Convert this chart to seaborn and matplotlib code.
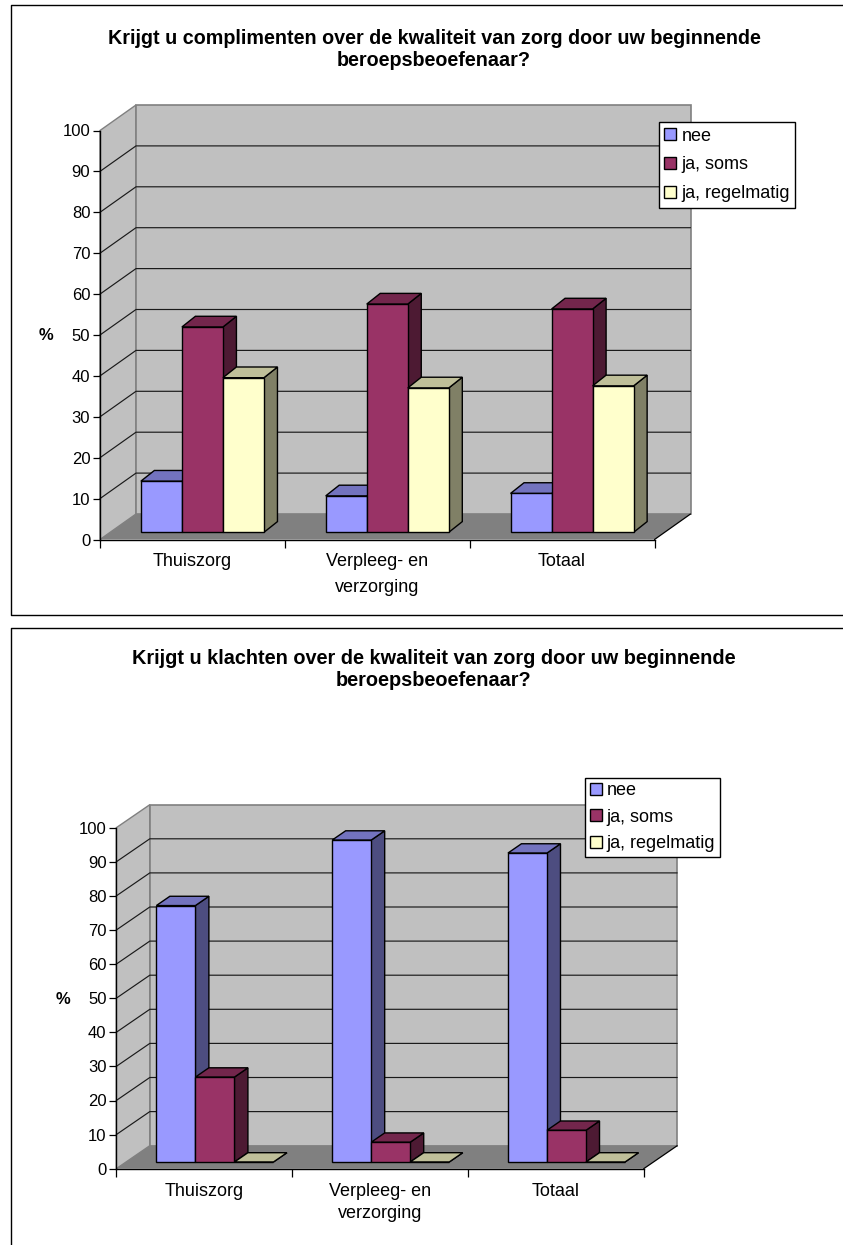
import matplotlib
matplotlib.use("Agg")
import matplotlib.pyplot as plt
from matplotlib.lines import Line2D
from matplotlib.patches import Patch, Polygon
from matplotlib.transforms import Affine2D
import pandas as pd
import seaborn as sns

# Survey results, percent of respondents per care sector
sectors = ["Thuiszorg", "Verpleeg- en\nverzorging", "Totaal"]
answers = ["nee", "ja, soms", "ja, regelmatig"]
compliments_nee = [12.5, 8.9, 9.5]
compliments_soms = [50.2, 55.8, 54.6]
compliments_regelmatig = [37.8, 35.3, 35.8]
complaints_nee = [75.2, 94.4, 90.6]
complaints_soms = [24.9, 5.8, 9.3]
complaints_regelmatig = [0, 0, 0]
yticks = list(range(0, 101, 10))

title_compliments = ("Krijgt u complimenten over de kwaliteit van zorg door uw beginnende\n"
                     "beroepsbeoefenaar?")
title_complaints = ("Krijgt u klachten over de kwaliteit van zorg door uw beginnende\n"
                    "beroepsbeoefenaar?")

front_colors = {"nee": "#9999FF", "ja, soms": "#993366", "ja, regelmatig": "#FFFFCC"}
top_colors = {"nee": "#7373BF", "ja, soms": "#73264C", "ja, regelmatig": "#BFBF99"}
side_colors = {"nee": "#4D4D80", "ja, soms": "#4D1A33", "ja, regelmatig": "#808066"}

W, H = 843, 1245
FONT = ["Liberation Sans", "DejaVu Sans"]

sns.set_theme(style="white")
plt.rcParams["font.family"] = FONT
plt.rcParams["text.color"] = "black"


def fx(px):
    return px / W


def fy(py):
    return 1 - py / H


def frame(fig, left, top, right, bottom):
    """Thin outline around a chart; open edges lie outside the canvas."""
    xs = [fx(right), fx(left), fx(left), fx(right)]
    ys = [fy(top), fy(top), fy(bottom), fy(bottom)]
    fig.add_artist(Line2D(xs, ys, color="black", lw=1.0, transform=fig.transFigure))


def pseudo3d_chart(fig, values, title, g):
    left, right, y0, y100 = g["left"], g["right"], g["y0"], g["y100"]
    ax = fig.add_axes([fx(left), fy(y0), fx(right) - fx(left), fy(y100) - fy(y0)])
    ax.set_facecolor("none")

    table = pd.DataFrame(
        [{"sector": s, "answer": a, "pct": v[i]}
         for a, v in zip(answers, values) for i, s in enumerate(sectors)]
    )
    sns.barplot(data=table, x="sector", y="pct", hue="answer", order=sectors,
                hue_order=answers, palette=front_colors, saturation=1,
                width=g["width"], gap=0, errorbar=None, legend=False,
                edgecolor="black", linewidth=1.0, ax=ax)
    ax.set_xlim(-0.5, 2.5)
    ax.set_ylim(0, 100)

    # pixel depths expressed in data units
    cat_px = (right - left) / 3
    pct_px = (y0 - y100) / 100
    wall_dx, wall_dy = g["wall"][0] / cat_px, g["wall"][1] / pct_px
    base_dx, base_dy = g["base"][0] / cat_px, g["base"][1] / pct_px
    bar_dx, bar_dy = g["depth"][0] / cat_px, g["depth"][1] / pct_px

    x0, x1 = -0.5, 2.5
    wall_edge = "#808080"
    ax.add_patch(Polygon([(x0, 0), (x0, 100), (x0 + wall_dx, 100 + wall_dy), (x0 + wall_dx, wall_dy)],
                         fc="#C0C0C0", ec=wall_edge, lw=1.0, clip_on=False, zorder=0.5))
    ax.add_patch(Polygon([(x0 + wall_dx, wall_dy), (x0 + wall_dx, 100 + wall_dy),
                          (x1 + wall_dx, 100 + wall_dy), (x1 + wall_dx, wall_dy)],
                         fc="#C0C0C0", ec=wall_edge, lw=1.2, clip_on=False, zorder=0.5))
    ax.add_patch(Polygon([(x0, 0), (x1, 0), (x1 + wall_dx, wall_dy), (x0 + wall_dx, wall_dy)],
                         fc="#808080", ec="none", clip_on=False, zorder=0.6))
    ax.plot([x1, x1 + wall_dx], [0, wall_dy], color="black", lw=0.9, clip_on=False, zorder=0.7)
    for v in yticks[1:-1]:
        ax.plot([x0, x0 + wall_dx, x1 + wall_dx], [v, v + wall_dy, v + wall_dy],
                color="#1a1a1a", lw=0.85, clip_on=False, zorder=0.7)

    # Bars sit in the middle of the floor; each gets a top and a side face
    shift = Affine2D().translate(base_dx, base_dy) + ax.transData
    z = 3.0
    for answer, container in zip(answers, ax.containers):
        for patch in container:
            xa, w, h = patch.get_x(), patch.get_width(), patch.get_height()
            xb = xa + w
            top = [(xa, h), (xb, h), (xb + bar_dx, h + bar_dy), (xa + bar_dx, h + bar_dy)]
            side = [(xb, 0), (xb, h), (xb + bar_dx, h + bar_dy), (xb + bar_dx, bar_dy)]
            ax.add_patch(Polygon(side, fc=side_colors[answer], ec="black", lw=1.0,
                                 transform=shift, clip_on=False, zorder=z))
            ax.add_patch(Polygon(top, fc=top_colors[answer], ec="black", lw=1.0,
                                 transform=shift, clip_on=False, zorder=z + 0.01))
            patch.set_transform(shift)
            patch.set_clip_on(False)
            patch.set_zorder(z + 0.02)
        z += 0.1

    sns.despine(ax=ax)
    for name in ("left", "bottom"):
        ax.spines[name].set_color("black")
        ax.spines[name].set_linewidth(1.0)
        ax.spines[name].set_zorder(2)

    ax.set_yticks(yticks)
    ax.set_xticks([0, 1, 2], sectors)
    ax.set_xticks([-0.5, 0.5, 1.5, 2.5], minor=True)
    ax.tick_params(axis="y", length=5, width=0.9, color="black", pad=2,
                   labelsize=12, labelcolor="black", left=True)
    ax.tick_params(axis="x", which="major", length=0, pad=g["xpad"],
                   labelsize=13, labelcolor="black")
    ax.tick_params(axis="x", which="minor", length=6, width=0.9, color="black", bottom=True)
    for label in ax.get_xticklabels():
        label.set_linespacing(g["xls"])

    ax.set_xlabel("")
    ax.set_ylabel("%", rotation=0, fontsize=12, fontweight="bold", ha="center", va="center",
                  color="black")
    ax.yaxis.set_label_coords((g["pct"][0] - left) / (right - left),
                              (y0 - g["pct"][1]) / (y0 - y100))

    ax.set_title(title, fontsize=g["tsize"], fontweight="bold", color="black",
                 x=(g["title"][0] - left) / (right - left),
                 y=(y0 - g["title"][1]) / (y0 - y100), va="bottom", linespacing=g["tls"])

    handles = [Patch(facecolor=front_colors[a], edgecolor="black", lw=1.0, label=a) for a in answers]
    leg = ax.legend(handles=handles, loc="upper left",
                    bbox_to_anchor=(fx(g["legend"][0]), fy(g["legend"][1])),
                    bbox_transform=fig.transFigure, fontsize=13, frameon=True, fancybox=False,
                    framealpha=1, facecolor="white", edgecolor="black", borderaxespad=0,
                    borderpad=g["lpad"], labelspacing=g["lspace"], handlelength=0.66,
                    handleheight=0.66, handletextpad=0.28)
    leg.get_frame().set_linewidth(1.0)
    leg.set_zorder(10)
    for t in leg.get_texts():
        t.set_color("black")
    return ax


fig = plt.figure(figsize=(W / 100, H / 100), dpi=100, facecolor="white")

frame(fig, 11, 5, 860, 615)
frame(fig, 11, 628, 860, 1270)

pseudo3d_chart(
    fig, [compliments_nee, compliments_soms, compliments_regelmatig], title_compliments,
    dict(left=100, right=654.5, y0=539.5, y100=130.5, wall=(36, 25.5), base=(10, 7.2),
         depth=(13.5, 10.7), width=0.666, legend=(659, 122.3), lpad=0.3, lspace=0.65,
         pct=(46, 335), title=(434, 78.5), tsize=14.2, tls=1.24, xpad=10, xls=1.63),
)
pseudo3d_chart(
    fig, [complaints_nee, complaints_soms, complaints_regelmatig], title_complaints,
    dict(left=116.3, right=643.7, y0=1168.7, y100=827.7, wall=(33.5, 23), base=(10.7, 6.7),
         depth=(13.5, 9.3), width=0.666, legend=(585.3, 777.7), lpad=0.25, lspace=0.52,
         pct=(63, 1000), title=(434, 698.5), tsize=14.3, tls=1.19, xpad=10, xls=1.4),
)

fig.savefig("out.png", dpi=100, facecolor="white")
